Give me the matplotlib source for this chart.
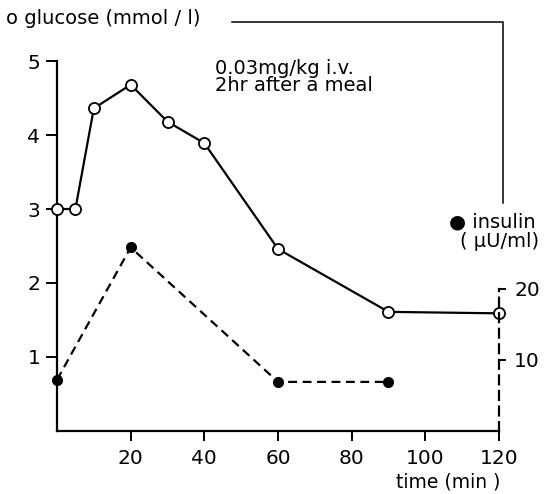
import matplotlib
matplotlib.use("Agg")
import matplotlib.pyplot as plt
from matplotlib.lines import Line2D

# data
time_glucose = [0, 5, 10, 20, 30, 40, 60, 90, 120]
glucose = [3.0, 3.0, 4.36, 4.68, 4.18, 3.89, 2.46, 1.61, 1.59]

time_insulin = [0, 20, 60, 90]
insulin = [7.2, 25.8, 6.9, 6.9]

x_ticks = [20, 40, 60, 80, 100, 120]
glucose_ticks = [1, 2, 3, 4, 5]
insulin_ticks = [10, 20]

W, H = 548, 494
fig = plt.figure(figsize=(W / 100, H / 100), dpi=100)
plt.rcParams["font.family"] = "DejaVu Sans"


def fx(px):
    return px / W


def fy(py):
    return 1 - py / H


# axes box: x 0..120 -> px 57..499, glucose 0..5 -> py 431..61
ax = fig.add_axes([fx(57), fy(431), (499 - 57) / W, (431 - 61) / H])
ax.set_xlim(0, 120)
ax.set_ylim(0, 5)
ax.patch.set_alpha(0)

for side in ("top", "right"):
    ax.spines[side].set_visible(False)
ax.spines["left"].set_linewidth(1.6)
ax.spines["bottom"].set_linewidth(1.6)
ax.spines["left"].set_bounds(0, 5)
ax.spines["bottom"].set_bounds(0, 120)

ax.set_xticks(x_ticks)
ax.set_yticks(glucose_ticks)
ax.tick_params(axis="x", direction="out", length=7, width=1.4, pad=6, labelsize=14.5)
ax.tick_params(axis="y", direction="out", length=8, width=1.4, pad=4, labelsize=14.5)

ax.plot(time_glucose, glucose, color="black", lw=1.6, marker="o", ms=8,
        mfc="white", mec="black", mew=1.3, clip_on=False, zorder=4)

# insulin on its own right-hand axis
ax2 = ax.twinx()
ax2.set_ylim(0, 52)
ax2.set_xlim(0, 120)
for side in ("top", "left", "bottom"):
    ax2.spines[side].set_visible(False)
ax2.spines["right"].set_bounds(0, 20)
ax2.spines["right"].set_linestyle((0, (4, 3)))
ax2.spines["right"].set_linewidth(1.6)
ax2.set_yticks(insulin_ticks)
ax2.tick_params(axis="y", direction="out", length=5, width=1.4, pad=6, labelsize=14.5)

ax2.plot(time_insulin, insulin, color="black", lw=1.6, ls=(0, (4, 2.5)),
         marker="o", ms=7, mfc="black", mec="black", clip_on=False, zorder=4)

# labels
fig.text(fx(6), fy(19), "o glucose (mmol / l)", fontsize=14, va="center", ha="left")
fig.text(fx(215), fy(77), "0.03mg/kg i.v.\n2hr after a meal", fontsize=14,
         va="center", ha="left", linespacing=0.9)
fig.text(fx(449), fy(222), "● insulin", fontsize=14, va="center", ha="left")
fig.text(fx(460), fy(241), "( μU/ml)", fontsize=14, va="center", ha="left")
fig.text(fx(396), fy(482), "time (min )", fontsize=13.5, va="center", ha="left")

# frame line from the glucose label round to the insulin label
fig.add_artist(Line2D([fx(232), fx(503), fx(503)], [fy(22), fy(22), fy(203)],
                      transform=fig.transFigure, color="black", lw=1.1))

fig.savefig("out.png", dpi=100)
